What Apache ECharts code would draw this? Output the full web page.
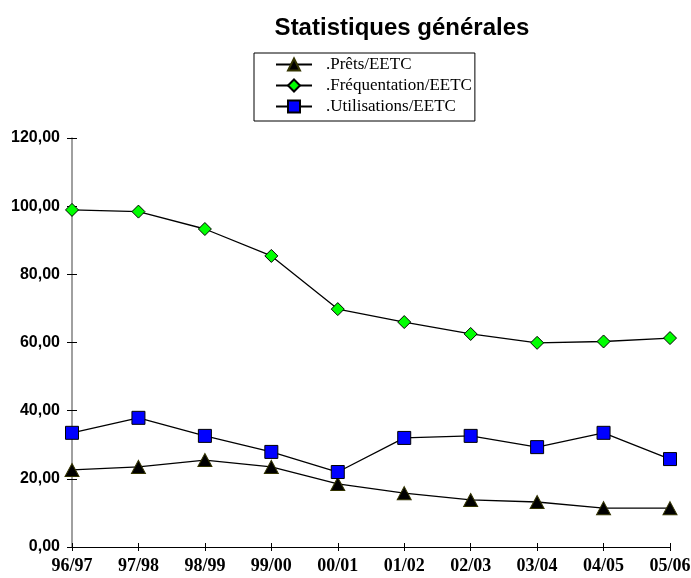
<!DOCTYPE html>
<html><head><meta charset="utf-8">
<script src="https://cdn.jsdelivr.net/npm/echarts@6/dist/echarts.min.js"></script>
<style>html,body{margin:0;padding:0;background:#fff}#c{width:691px;height:578px}</style>
</head><body><div id="c"></div>
<script>
const categories = ['96/97','97/98','98/99','99/00','00/01','01/02','02/03','03/04','04/05','05/06'];
const prets = [22.6,23.5,25.5,23.5,18.5,15.8,13.8,13.2,11.4,11.4];
const frequentation = [98.9,98.4,93.3,85.4,69.8,66.0,62.5,59.9,60.3,61.3];
const utilisations = [33.5,37.9,32.6,27.9,22.0,32.0,32.6,29.3,33.5,25.8];
const seriesNames = ['.Prêts/EETC','.Fréquentation/EETC','.Utilisations/EETC'];

const chart = echarts.init(document.getElementById('c'));
const lineStyle = {color:'#000', width:1.3};
const xBase = {
  type:'category', data:categories, boundaryGap:false, position:'bottom',
  axisLine:{lineStyle:{color:'#000', width:1}},
  splitLine:{show:false}
};
chart.setOption({
  animation:false,
  title:{text:'Statistiques générales', left:397, textAlign:'center', top:11,
    textStyle:{fontFamily:'Liberation Sans', fontWeight:'bold', fontSize:24, color:'#000'}},
  legend:{
    orient:'vertical', left:254, top:53, data:seriesNames,
    borderColor:'#000', borderWidth:1, padding:[3,3,6,21], itemGap:4,
    itemWidth:36, itemHeight:15,
    textStyle:{fontFamily:'Liberation Serif', fontSize:17, color:'#000', padding:[0,0,0,9]},
    backgroundColor:'#fff'
  },
  grid:{left:72, right:21, top:138, bottom:31, outerBoundsMode:'none', containLabel:false},
  xAxis:[
    Object.assign({}, xBase, {
      axisTick:{show:true, inside:false, length:4, alignWithLabel:true, lineStyle:{color:'#000'}},
      axisLabel:{fontFamily:'Liberation Serif', fontWeight:'bold', fontSize:18, color:'#000', margin:10}
    }),
    Object.assign({}, xBase, {
      axisTick:{show:true, inside:true, length:4, lineStyle:{color:'#000'}},
      axisLabel:{show:false}
    })
  ],
  yAxis:[{
    type:'value', min:0, max:120, interval:20,
    axisLine:{show:true, lineStyle:{color:'#808080', width:1.5}},
    axisTick:{show:true, length:5, lineStyle:{color:'#000'}},
    splitLine:{show:false},
    axisLabel:{fontFamily:'Liberation Sans', fontWeight:'bold', fontSize:16, color:'#000', margin:12,
      formatter:v=>v.toFixed(2).replace('.',',')}
  },{
    type:'value', min:0, max:120, interval:20, position:'left',
    axisLine:{show:false},
    axisTick:{show:true, inside:true, length:5, lineStyle:{color:'#000'}},
    splitLine:{show:false}, axisLabel:{show:false}
  }],
  series:[
    {name:seriesNames[0], type:'line', data:prets, symbol:'triangle', symbolSize:[14,13],
      lineStyle:lineStyle, itemStyle:{color:'#000', borderColor:'#333300', borderWidth:1}, z:3},
    {name:seriesNames[1], type:'line', data:frequentation, symbol:'diamond', symbolSize:13,
      lineStyle:lineStyle, itemStyle:{color:'#00ff00', borderColor:'#000', borderWidth:1}, z:3},
    {name:seriesNames[2], type:'line', data:utilisations, symbol:'rect', symbolSize:13,
      lineStyle:lineStyle, itemStyle:{color:'#0000ff', borderColor:'#000', borderWidth:1}, z:3}
  ]
});
</script></body></html>
